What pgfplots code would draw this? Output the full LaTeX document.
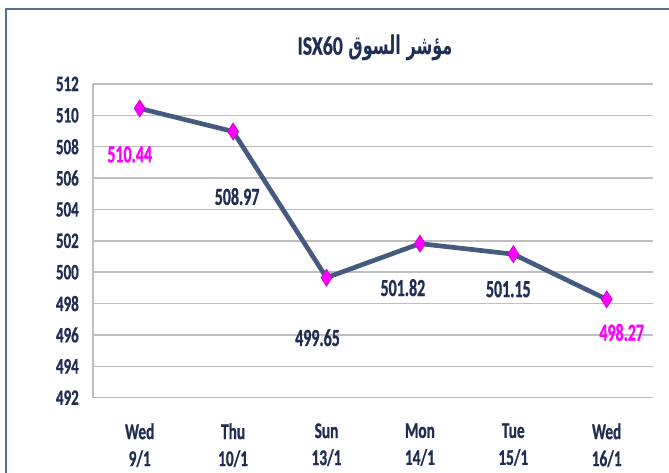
\documentclass[border=0pt]{standalone}
\usepackage{fontspec}
\usepackage{pgfplots}
\pgfplotsset{compat=1.18}
\TeXXeTstate=1
\setmainfont{Carlito}
\newfontfamily\tickfont[FakeStretch=0.68,FakeBold=0.8]{Carlito Bold}
\newfontfamily\labfont[FakeStretch=0.65,FakeBold=0.8]{Carlito Bold}
\newfontfamily\titlefont[FakeStretch=0.74,FakeBold=0.8]{Carlito Bold}
\newfontfamily\arabicfont[Script=Arabic,FakeStretch=0.62]{DejaVu Sans Bold}
\definecolor{navy}{HTML}{1F2E55}
\definecolor{linec}{HTML}{445A7E}
\definecolor{mag}{HTML}{FF00FF}
\definecolor{gridc}{HTML}{BFBFBF}
\definecolor{framec}{HTML}{56708F}
\begin{document}
\begin{tikzpicture}[x=0.75pt,y=0.75pt]
\useasboundingbox (0,0) rectangle (669,473);
\begin{scope}
\clip (0,0) rectangle (669,473);
\draw[framec, line width=1.5pt] (6,-20) -- (6,463.5) -- (700,463.5);
\end{scope}
\node[text=navy, inner sep=0pt] at (375,425) {\fontsize{19.5pt}{21pt}\selectfont\arabicfont\beginR مؤشر السوق \beginL{\fontsize{20pt}{21pt}\selectfont\titlefont ISX60}\endL\endR};
\begin{axis}[
  at={(69.75pt,56.475pt)}, anchor=south west,
  scale only axis, width=420.3pt, height=235.3pt,
  xmin=-0.5, xmax=5.5, ymin=492, ymax=512,
  ytick={492,494,...,512},
  xtick={0,1,2,3,4,5},
  xticklabels={{Wed\\9/1},{Thu\\10/1},{Sun\\13/1},{Mon\\14/1},{Tue\\15/1},{Wed\\16/1}},
  ymajorgrids, grid style={gridc, line width=1.1pt},
  axis lines*=left,
  axis line style={gridc, line width=1.1pt, -},
  major tick length=0pt,
  /pgf/number format/assume math mode=true,
  yticklabel style={font=\fontsize{16.5pt}{18pt}\selectfont\tickfont, text=navy, anchor=east, inner sep=0pt, xshift=-10.5pt},
  xticklabel style={font=\fontsize{16.9pt}{20.25pt}\selectfont\tickfont, text=navy, align=center, anchor=north, inner sep=0pt, yshift=-19pt},
  clip=false,
]
\addplot[linec, line width=3.5pt, mark=diamond*, mark size=6.4pt,
  mark options={fill=mag, draw=mag!80!black, line width=0.5pt, xscale=0.86}]
  coordinates {(0,510.44)(1,508.97)(2,499.65)(3,501.82)(4,501.15)(5,498.27)};
\tikzset{dl/.style={inner sep=0pt, font=\fontsize{18.4pt}{20pt}\selectfont\labfont}}
\node[dl, text=mag, xshift=-7.5pt, yshift=-34.5pt] at (axis cs:0,510.44) {510.44};
\node[dl, text=navy, xshift=3pt, yshift=-48.75pt] at (axis cs:1,508.97) {508.97};
\node[dl, text=navy, xshift=-6.75pt, yshift=-45pt] at (axis cs:2,499.65) {499.65};
\node[dl, text=navy, xshift=-12.75pt, yshift=-33pt] at (axis cs:3,501.82) {501.82};
\node[dl, text=navy, xshift=-3.75pt, yshift=-26.25pt] at (axis cs:4,501.15) {501.15};
\node[dl, text=mag, xshift=11.25pt, yshift=-24.75pt] at (axis cs:5,498.27) {498.27};
\end{axis}
\end{tikzpicture}
\end{document}
